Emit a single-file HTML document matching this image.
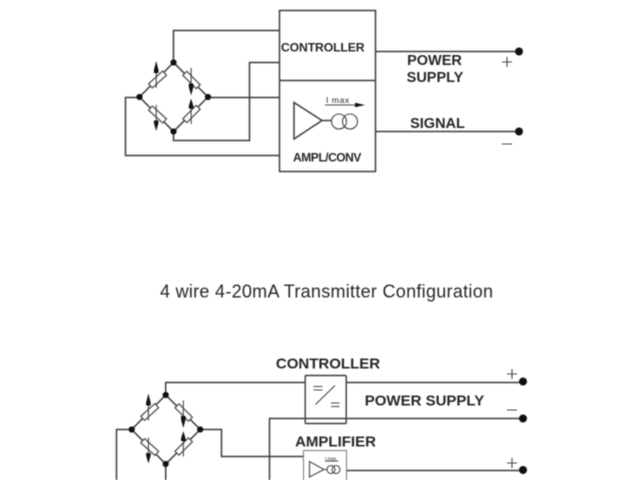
<!DOCTYPE html>
<html>
<head>
<meta charset="utf-8">
<style>
html,body{margin:0;padding:0;background:#fff;width:640px;height:480px;overflow:hidden}
svg{display:block;filter:blur(.45px)}
text{font-family:"Liberation Sans",sans-serif;fill:#262626}
.b{font-weight:bold}
.l{fill:none;stroke:#3c3c3c;stroke-width:1.5}
.d{fill:#111}
.r{fill:#fff;stroke:#444;stroke-width:1.2}
.t{fill:none;stroke:#444;stroke-width:1.1}
</style>
</head>
<body>
<svg width="640" height="480" viewBox="0 0 640 480" xmlns="http://www.w3.org/2000/svg">
<defs>
<g id="bridge">
  <path class="l" d="M0 -34.5L-34 0L0 34.5L34.5 0Z"/>
  <rect class="r" x="-9.5" y="-2.8" width="19" height="5.6" transform="translate(-16 -17.5) rotate(-42)"/>
  <rect class="r" x="-9.5" y="-2.8" width="19" height="5.6" transform="translate(18 -17) rotate(45)"/>
  <rect class="r" x="-9.5" y="-2.8" width="19" height="5.6" transform="translate(-16 17.5) rotate(42)"/>
  <rect class="r" x="-9.5" y="-2.8" width="19" height="5.6" transform="translate(18 17) rotate(-45)"/>
  <path class="t" d="M-17.3 -28V-9M17.6 -29V-6M17.6 6V27M-17.3 8V30"/>
  <path class="d" d="M-17.3 -36L-15 -27V-24H-19.6V-27Z"/>
  <path class="d" d="M17.6 -1.5L15.3 -10V-13.5H19.9V-10Z"/>
  <path class="d" d="M17.6 1.5L15.3 9V11.5H19.9V9Z"/>
  <path class="d" d="M-17.3 34L-15 26V23.5H-19.6V26Z"/>
  <circle class="d" cx="0" cy="-34.5" r="3.1"/>
  <circle class="d" cx="0" cy="34.5" r="3.1"/>
  <circle class="d" cx="-34" cy="0" r="3.1"/>
  <circle class="d" cx="34.5" cy="0" r="3.1"/>
</g>
</defs>

<!-- Top diagram -->
<rect class="l" x="279.5" y="10.5" width="96" height="161"/>
<path class="l" d="M279.5 80.5H375.5"/>
<path class="l" d="M173.5 62V30.5H279.5M279.5 62.5H249.5V140.5H173.5V131M207.5 97.5H279.5M140 97.5H125.5V155.5H279.5"/>
<use href="#bridge" x="173.5" y="97"/>
<text class="b" x="281" y="51.5" font-size="12.2" letter-spacing="-.12">CONTROLLER</text>
<text class="b" x="293" y="161.5" font-size="12" letter-spacing="-.45">AMPL/CONV</text>
<path class="l" d="M294 102.5V139L322 120.5ZM322 120.5H332"/>
<circle class="t" cx="339" cy="121.5" r="7.5"/>
<circle class="t" cx="350" cy="121.5" r="7.5"/>
<text x="326" y="103" font-size="8.5" letter-spacing=".6">I  max</text>
<path class="t" d="M325 105H358"/>
<path class="d" d="M365 105L355 102.8V107.2Z"/>
<path class="l" d="M375.5 51.5H519M375.5 131.5H519"/>
<circle class="d" cx="519" cy="51.5" r="4"/>
<circle class="d" cx="519" cy="131.5" r="4"/>
<text class="b" x="434.5" y="65" font-size="14.5" text-anchor="middle">POWER</text>
<text class="b" x="435" y="82" font-size="14.5" text-anchor="middle">SUPPLY</text>
<text class="b" x="437.5" y="128" font-size="14.5" text-anchor="middle">SIGNAL</text>
<path class="t" d="M502 62H512M507 57V67M502 144H512"/>

<text x="326.5" y="297.3" font-size="18" textLength="333" lengthAdjust="spacing" text-anchor="middle">4 wire 4-20mA Transmitter Configuration</text>

<!-- Bottom diagram -->
<path class="l" d="M165.7 394V382.5H305M346 382.5H523M269.5 480V418.5H523M201 429.5H221.5V456.5H303M131 429.5H116.5V480M165.7 464V480M346 470.5H523"/>
<use href="#bridge" x="165.7" y="429.5"/>
<rect x="305.2" y="375.5" width="41" height="48" rx="1" fill="none" stroke="#3c3c3c" stroke-width="1.4"/>
<path class="t" d="M313.5 386.5H322.5M313.5 390H322.5M315.5 404.5L335 385.5" stroke-width="1.3"/>
<path class="t" d="M331 403H339.5M331 406.5H339.5" stroke-width="1.3"/>
<rect x="303.5" y="450.5" width="43" height="40" fill="#fff" stroke="#777" stroke-width="1"/>
<path class="t" d="M309.5 461.5V477L324 469.5ZM324 469.5H327"/>
<circle class="t" cx="331" cy="469.5" r="4"/>
<circle class="t" cx="336" cy="469.5" r="4"/>
<text x="325" y="460" font-size="4.5">I max</text>
<path class="t" d="M325 461H338"/>
<circle class="d" cx="523" cy="381.5" r="4"/>
<circle class="d" cx="523" cy="418.5" r="4"/>
<circle class="d" cx="523" cy="470" r="4"/>
<text class="b" x="328" y="368.3" font-size="15" text-anchor="middle">CONTROLLER</text>
<text class="b" x="424.5" y="405.3" font-size="15" text-anchor="middle">POWER SUPPLY</text>
<text class="b" x="335.5" y="446.3" font-size="15" text-anchor="middle">AMPLIFIER</text>
<path class="t" d="M507 374H517M512 369V379M507 410H517M507 463H517M512 458V468"/>
</svg>
</body>
</html>
